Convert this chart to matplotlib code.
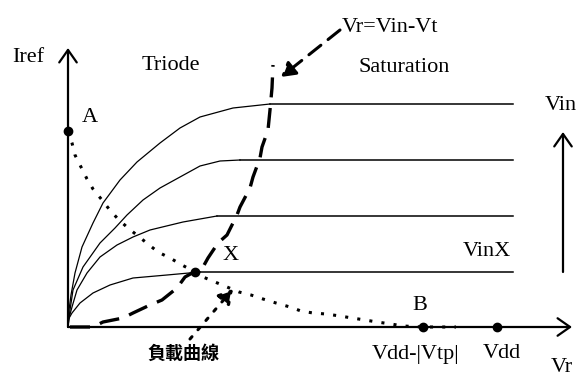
import numpy as np
import matplotlib
matplotlib.use('Agg')
import matplotlib.pyplot as plt

# ========================================================================
# I-V sketch of the load transistor (arbitrary units, origin at 0,0)

# triode -> saturation curves, one per Vin step
curve_vr = [
    [0, 1, 3, 7, 14, 25, 35, 52, 69, 92, 112, 132, 165, 202],
    [0, 2, 5, 15, 32, 47, 59, 75, 92, 112, 132, 152, 172],
    [0, 1, 4, 9, 19, 32, 49, 65, 82, 115, 149],
    [0, 0, 4, 12, 25, 42, 65, 99, 132],
]
curve_iref = [
    [0, 17, 32, 54, 80, 104, 124, 147, 165, 184, 199, 210, 219, 223],
    [0, 17, 37, 60, 84, 99, 112, 127, 139, 150, 161, 166, 167],
    [0, 9, 20, 37, 54, 70, 82, 90, 97, 105, 111],
    [0, 7, 14, 24, 34, 42, 49, 52, 55],
]
sat_level = [223, 167, 111, 55]
sat_end = 445

# boundary Vr = Vin - Vt
edge_vr = [2, 25, 35, 55, 65, 82, 94, 109, 117, 135, 140, 150, 159, 169, 172,
           182, 185, 192, 194, 200, 202, 204, 205]
edge_iref = [0, 0, 5, 9, 14, 22, 27, 39, 50, 60, 69, 84, 92, 112, 120,
             139, 150, 169, 180, 197, 217, 239, 262]

# load curve from A to B
load_vr = [0, 4, 7, 13, 19, 25, 34, 41, 50, 60, 70, 80, 90, 102, 114, 127,
           135, 147, 159, 171, 183, 195, 208, 222, 233, 245, 258, 272, 284,
           297, 309, 323, 335, 355, 374, 388]
load_iref = [196, 184, 172, 160, 148, 138, 127, 118, 108, 99, 91, 83, 75, 69,
             62, 55, 50, 45, 40, 35, 32, 28, 24, 20, 16, 14, 13, 11, 9, 7, 5,
             3, 1, 0, 0, 0]

point_A = (0, 196)
point_X = (127, 55)
v_b = 355       # Vdd-|Vtp|
v_dd = 429      # Vdd

# ========================================================================
fig = plt.figure(figsize=(5.8, 3.78), dpi=100)
ax = fig.add_axes([0, 0, 1, 1])
ax.set_xlim(-68, 512)
ax.set_ylim(-51, 327)
ax.axis('off')

serif = 'Liberation Serif'
fs = 16

# axes with open arrow heads
arrow_kw = dict(arrowstyle='->,head_length=0.5,head_width=0.35', lw=1.6,
                color='black', mutation_scale=18, shrinkA=0, shrinkB=0)
ax.annotate('', xy=(0, 279), xytext=(0, 0), arrowprops=arrow_kw)
ax.annotate('', xy=(504, 0), xytext=(0, 0), arrowprops=arrow_kw)

# triode curves and saturation plateaus
for vr, ir, lvl in zip(curve_vr, curve_iref, sat_level):
    ax.plot(vr, ir, color='black', lw=0.9)
    ax.plot([vr[-1], sat_end], [lvl, lvl], color='black', lw=1.1)

# Vin increasing arrow
ax.annotate('', xy=(495, 195), xytext=(495, 55), arrowprops=arrow_kw)

# boundary curve
ax.plot(edge_vr, edge_iref, color='black', lw=2.4, dashes=(6, 3.2),
        dash_capstyle='butt')

# load curve
ax.plot(load_vr, load_iref, color='black', lw=2.2, dashes=(1, 3),
        dash_capstyle='butt')

# marked points
ax.plot(*point_A, 'o', color='black', ms=6)
ax.plot(*point_X, 'o', color='black', ms=6)
ax.plot([v_b, v_dd], [0, 0], 'o', color='black', ms=6)

# leaders for the annotations
ax.annotate('', xy=(213, 250), xytext=(272, 297),
            arrowprops=dict(arrowstyle='-|>,head_length=0.6,head_width=0.35',
                            lw=2.2, linestyle=(0, (5, 3)), color='black',
                            mutation_scale=14, shrinkA=0, shrinkB=0))
ax.annotate('', xy=(165, 38), xytext=(122, -12),
            arrowprops=dict(arrowstyle='-|>,head_length=0.6,head_width=0.35',
                            lw=2.2, linestyle=(0, (1, 3)), color='black',
                            mutation_scale=14, shrinkA=0, shrinkB=0))

# labels
txt = dict(family=serif, fontsize=fs, ha='center', va='center')
ax.text(-40, 270, 'Iref', **txt)
ax.text(103, 262, 'Triode', **txt)
ax.text(336, 260, 'Saturation', **txt)
ax.text(274, 300, 'Vr=Vin-Vt', family=serif, fontsize=fs, ha='left', va='center')
ax.text(22, 209, 'A', **txt)
ax.text(493, 222, 'Vin', **txt)
ax.text(419, 76, 'VinX', **txt)
ax.text(163, 72, 'X', **txt)
ax.text(352, 21, 'B', **txt)
ax.text(348, -27, 'Vdd-|Vtp|', **txt)
ax.text(434, -27, 'Vdd', **txt)
ax.text(494, -40, 'Vr', **txt)
ax.text(115, -26, '負載曲線', family=['Noto Sans CJK TC', 'DejaVu Sans'],
        fontsize=13, ha='center', va='center', fontweight='bold')

fig.savefig('out.png', dpi=100)
